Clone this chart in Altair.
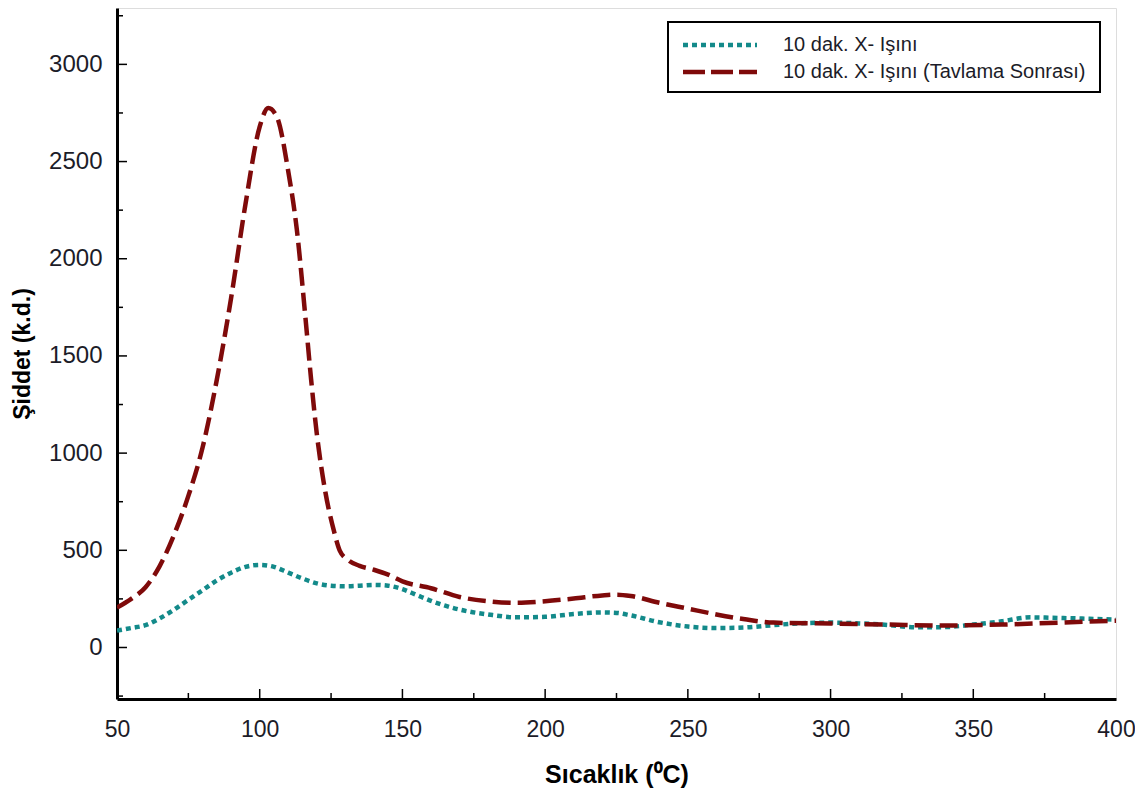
import altair as alt
import pandas as pd

# --- data ---
series_names = ["10 dak. X- Işını", "10 dak. X- Işını (Tavlama Sonrası)"]

temp_teal = [50, 55, 60, 65, 70, 75, 80, 85, 90, 95, 100, 105, 110, 115, 120, 125, 130, 135,
             140, 145, 150, 155, 160, 165, 170, 180, 190, 200, 210, 220, 225, 230, 240, 250,
             260, 270, 280, 290, 300, 310, 320, 330, 340, 350, 360, 370, 380, 390, 400]
val_teal = [87, 100, 115, 150, 195, 245, 295, 345, 385, 415, 425, 415, 385, 355, 330, 318, 315, 318,
            322, 318, 300, 270, 240, 215, 195, 170, 155, 158, 172, 180, 178, 165, 130, 108,
            100, 103, 115, 125, 128, 124, 116, 104, 105, 118, 135, 155, 152, 148, 143]

temp_red = [50, 55, 60, 65, 70, 75, 80, 85, 90, 95, 100, 103, 106, 110, 113, 116, 118, 120, 123,
            126, 128, 131, 135, 140, 145, 150, 160, 170, 180, 190, 200, 210, 220, 225, 230, 240,
            250, 260, 270, 280, 300, 320, 340, 360, 380, 400]
val_red = [205, 250, 310, 420, 580, 780, 1030, 1380, 1800, 2280, 2680, 2775, 2730, 2450, 2150, 1700, 1380, 1100, 800,
           600, 500, 450, 420, 400, 375, 340, 305, 260, 238, 230, 238, 252, 268, 272, 265, 230,
           200, 170, 145, 128, 123, 118, 113, 118, 128, 138]

x_labels = [50, 100, 150, 200, 250, 300, 350, 400]
y_major = [0, 500, 1000, 1500, 2000, 2500, 3000]
y_minor = [-250, 250, 750, 1250, 1750, 2250, 2750, 3250]
x_major = [100, 150, 200, 250, 300, 350]
x_minor = [75, 125, 175, 225, 275, 325, 375]

colors = ["#138a8a", "#7f0a0a"]
dashes = [[5, 4], [18, 7]]

X_DOMAIN = [50, 400]
Y_DOMAIN = [-265, 3290]
W, H = 999, 691

df = pd.concat([
    pd.DataFrame({"T": temp_teal, "v": val_teal, "s": series_names[0], "o": 1}),
    pd.DataFrame({"T": temp_red, "v": val_red, "s": series_names[1], "o": 0}),
])

xs = alt.Scale(domain=X_DOMAIN, nice=False, zero=False)
ys = alt.Scale(domain=Y_DOMAIN, nice=False, zero=False)
font = "Liberation Sans"
label_color = "#1c1c28"

lines = alt.Chart(df).mark_line(interpolate="monotone", strokeWidth=4.5, clip=True).encode(
    x=alt.X("T:Q", scale=xs, axis=alt.Axis(
        title="Sıcaklık (⁰C)", values=x_labels, format="d", tickSize=0, labelFlush=False,
        labelOverlap=False, grid=False, domainColor="black", domainWidth=3, labelFontSize=23,
        labelFont=font, labelColor=label_color, labelPadding=19, titleFont=font,
        titleFontSize=25, titleFontWeight="bold", titleColor="black", titlePadding=21)),
    y=alt.Y("v:Q", scale=ys, axis=alt.Axis(
        title="Şiddet (k.d.)", values=y_major, format="d", tickSize=0, grid=False,
        labelFlush=False, domainColor="black", domainWidth=3, labelFontSize=24, labelFont=font,
        labelColor=label_color, labelPadding=15, titleFont=font, titleFontSize=23,
        titleFontWeight="bold", titleColor="black", titlePadding=14)),
    color=alt.Color("s:N", scale=alt.Scale(domain=series_names, range=colors), legend=None),
    strokeDash=alt.StrokeDash("s:N", scale=alt.Scale(domain=series_names, range=dashes), legend=None),
    detail="s:N",
    order=alt.Order("o:Q"),
)

def ytick(vals, length):
    return alt.Chart(pd.DataFrame({"v": vals})).mark_rule(color="black", strokeWidth=1.5).encode(
        y=alt.Y("v:Q", scale=ys), x=alt.value(0), x2=alt.value(length))

def xtick(vals, length):
    return alt.Chart(pd.DataFrame({"T": vals})).mark_rule(color="black", strokeWidth=1.5).encode(
        x=alt.X("T:Q", scale=xs), y=alt.value(H), y2=alt.value(H - length))

one = pd.DataFrame({"a": [0]})
leg_box = alt.Chart(one).mark_rect(fill="white", stroke="black", strokeWidth=2).encode(
    x=alt.value(551), x2=alt.value(983), y=alt.value(14), y2=alt.value(84))

def leg_line(i, ypix):
    return alt.Chart(one).mark_rule(color=colors[i], strokeDash=dashes[i] if i == 0 else [22, 6],
                                    strokeWidth=4.5).encode(
        x=alt.value(566), x2=alt.value(640), y=alt.value(ypix))

def leg_text(i, ypix):
    return alt.Chart(one).mark_text(align="left", baseline="middle", fontSize=20, font=font,
                                    color=label_color).encode(
        x=alt.value(666), y=alt.value(ypix), text=alt.value(series_names[i]))

chart = alt.layer(
    lines,
    ytick(y_major, 10), ytick(y_minor, 6),
    xtick(x_major, 10), xtick(x_minor, 6),
    leg_box, leg_line(0, 37), leg_line(1, 64), leg_text(0, 37), leg_text(1, 64),
).properties(
    width=W, height=H,
    autosize=alt.AutoSizeParams(type="none"),
    padding={"left": 109, "top": 0, "right": 19, "bottom": 90},
).configure_view(
    stroke="#333", strokeWidth=2
).configure(background="white")

chart.save("out.html", embed_options={"renderer": "svg", "actions": False})
